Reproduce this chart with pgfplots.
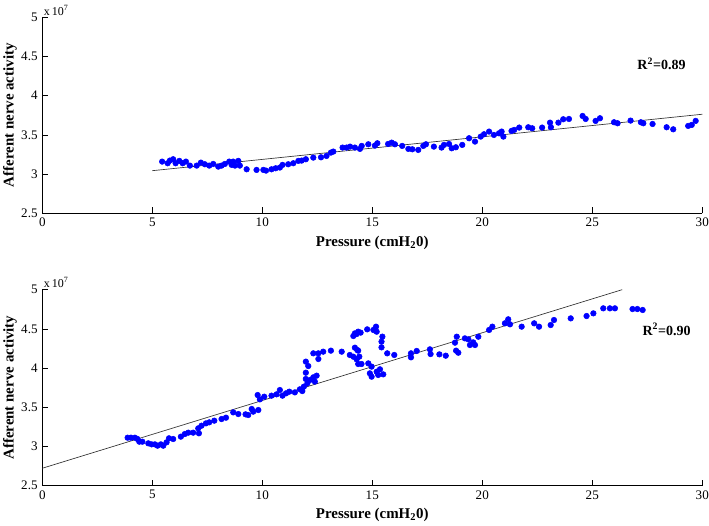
\documentclass[border=0pt]{standalone}
\usepackage{pgfplots}
\pgfplotsset{compat=1.18}
\usepackage{pgfplotstable}
\usepackage{fontspec}
\setmainfont{Liberation Serif}

\pgfplotstableread{
x y
5.45 3.159
5.70 3.138
5.80 3.172
5.95 3.189
6.06 3.138
6.23 3.168
6.38 3.138
6.53 3.159
6.71 3.108
7.02 3.108
7.21 3.146
7.39 3.125
7.59 3.108
7.77 3.129
8.00 3.095
8.15 3.108
8.30 3.129
8.50 3.159
8.61 3.117
8.68 3.159
8.76 3.108
8.91 3.168
8.98 3.108
9.29 3.061
9.74 3.053
10.05 3.053
10.17 3.044
10.42 3.061
10.61 3.074
10.80 3.083
10.92 3.117
11.18 3.125
11.41 3.138
11.64 3.168
11.79 3.172
11.98 3.189
12.32 3.210
12.67 3.214
12.92 3.231
13.12 3.274
13.23 3.287
13.65 3.338
13.83 3.338
13.99 3.350
14.21 3.338
14.44 3.321
14.52 3.359
14.82 3.380
15.12 3.363
15.23 3.393
15.72 3.384
15.88 3.401
16.03 3.380
16.36 3.359
16.64 3.321
16.82 3.316
17.09 3.308
17.32 3.359
17.44 3.380
17.80 3.350
18.15 3.338
18.26 3.372
18.49 3.384
18.61 3.329
18.80 3.342
19.09 3.372
19.40 3.457
19.67 3.414
19.93 3.478
20.08 3.508
20.31 3.542
20.53 3.499
20.76 3.520
20.88 3.542
20.96 3.478
21.33 3.550
21.45 3.563
21.68 3.593
22.09 3.597
22.27 3.584
22.72 3.593
23.08 3.656
23.12 3.597
23.46 3.656
23.68 3.699
23.94 3.703
24.56 3.741
24.70 3.703
25.15 3.678
25.35 3.712
25.99 3.661
26.15 3.648
26.74 3.682
27.21 3.661
27.32 3.648
27.74 3.639
28.38 3.597
28.68 3.571
29.36 3.614
29.52 3.627
29.70 3.678
}\toptable

\pgfplotstableread{
x y
3.88 3.112
4.03 3.112
4.21 3.112
4.33 3.095
4.41 3.061
4.55 3.061
4.82 3.040
4.97 3.027
5.12 3.027
5.24 3.010
5.39 3.027
5.50 3.010
5.65 3.053
5.76 3.104
5.95 3.095
6.30 3.125
6.48 3.159
6.64 3.176
6.86 3.176
7.09 3.231
7.12 3.168
7.24 3.265
7.44 3.295
7.59 3.308
7.82 3.329
8.15 3.350
8.35 3.367
8.68 3.435
8.91 3.414
9.24 3.410
9.36 3.401
9.52 3.478
9.59 3.444
9.82 3.465
9.79 3.656
9.89 3.601
10.09 3.635
10.42 3.648
10.65 3.665
10.80 3.720
10.92 3.648
11.08 3.678
11.23 3.699
11.48 3.690
11.71 3.729
11.82 3.707
11.89 3.763
11.98 3.861
11.98 3.941
12.05 3.805
12.17 3.848
12.32 3.882
12.39 3.827
12.47 3.903
11.98 4.082
12.09 4.026
12.32 4.188
12.55 4.188
12.55 4.116
12.77 4.209
13.12 4.222
13.61 4.209
13.98 4.167
14.14 4.409
14.29 4.434
14.21 4.260
14.36 4.222
14.41 4.146
14.21 4.443
14.36 4.464
14.47 4.452
14.32 4.230
14.14 4.145
14.29 4.111
14.36 4.052
14.51 4.052
14.77 4.494
15.05 4.486
15.17 4.528
15.20 4.464
15.46 4.401
15.42 4.337
15.42 4.264
15.68 4.188
16.00 4.167
14.82 4.060
14.97 4.018
14.89 3.933
14.97 3.890
15.20 3.954
15.35 3.984
15.27 3.912
15.50 3.920
16.76 4.188
16.76 4.137
17.02 4.218
17.62 4.239
17.65 4.179
18.05 4.175
18.34 4.158
18.76 4.324
18.84 4.400
18.81 4.222
18.91 4.196
19.21 4.379
19.37 4.366
19.44 4.294
19.59 4.328
19.67 4.294
19.82 4.400
20.31 4.486
20.46 4.528
21.03 4.571
21.18 4.622
21.26 4.558
21.79 4.528
22.36 4.571
22.58 4.528
23.11 4.549
23.26 4.613
24.02 4.634
24.74 4.664
25.05 4.698
25.50 4.762
25.80 4.762
26.03 4.762
26.83 4.753
27.05 4.753
27.29 4.741
}\bottomtable

\pgfplotsset{myax/.style={
  width=495pt, height=147pt, scale only axis,
  xmin=0, xmax=30, ymin=2.5, ymax=5,
  axis x line=bottom, axis y line=left,
  axis line style={-, black, line width=0.5pt},
  xtick={0,5,10,15,20,25,30},
  ytick={2.5,3,3.5,4,4.5,5},
  yticklabels={2.5,3,3.5,4,4.5,5},
  tick align=inside, major tick length=4.5pt,
  tick style={black, line width=0.5pt},
  ticklabel style={font=\fontsize{9.8}{11}\selectfont},
  /pgf/number format/assume math mode=true,
  xlabel={Pressure (cmH\textsubscript{2}0)},
  ylabel={Afferent nerve activity},
  label style={font=\fontsize{11.2}{13}\selectfont\bfseries},
  ylabel style={yshift=-3.5pt},
  clip=false,
  anchor=south west,
}}

\begin{document}
\begin{tikzpicture}
\path[use as bounding box] (0pt,0pt) rectangle (531.75pt,393.75pt);

\begin{axis}[myax, at={(31.7pt,233.8pt)}]
\addplot[black!80, line width=0.5pt] coordinates {(5,3.043) (30,3.763)};
\addplot[only marks, mark=*, mark size=2.1pt, blue, mark options={draw=blue, fill=blue}] table[x=x,y=y] {\toptable};
\node[anchor=south west, inner sep=1pt, font=\fontsize{9}{10}\selectfont] at (rel axis cs:0,1) {x\,10\textsuperscript{7}};
\node[font=\fontsize{10.5}{12}\selectfont\bfseries] at (axis cs:28.15,4.405) {R\textsuperscript{2}=0.89};
\end{axis}

\begin{axis}[myax, at={(31.7pt,29.5pt)}]
\addplot[black!80, line width=0.5pt] coordinates {(0,2.722) (26.36,5.0)};
\addplot[only marks, mark=*, mark size=2.1pt, blue, mark options={draw=blue, fill=blue}] table[x=x,y=y] {\bottomtable};
\node[anchor=south west, inner sep=1pt, font=\fontsize{9}{10}\selectfont] at (rel axis cs:0,1) {x\,10\textsuperscript{7}};
\node[font=\fontsize{10.5}{12}\selectfont\bfseries] at (axis cs:28.38,4.495) {R\textsuperscript{2}=0.90};
\end{axis}
\end{tikzpicture}
\end{document}
